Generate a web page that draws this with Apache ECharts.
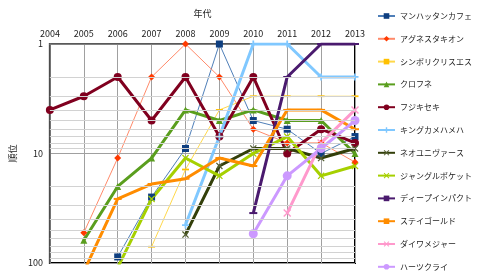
<!DOCTYPE html>
<html><head><meta charset="utf-8">
<script src="https://cdn.jsdelivr.net/npm/echarts@6/dist/echarts.min.js"></script>
<style>html,body{margin:0;padding:0;background:#fff}#c{width:480px;height:280px}</style>
</head><body><div id="c"></div>
<script>
const years = ['2004','2005','2006','2007','2008','2009','2010','2011','2012','2013'];
const manhattan = [null,null,88,25,9,1,5,6,10,7];
const agnes = [null,53,11,2,1,2,6,8,8,12];
const symboli = [null,null,null,71,14,4,3,3,3,3];
const kurofune = [null,62,20,11,4,5,4,5,5,10];
const fujikiseki = [4,3,2,5,2,7,2,10,6,8];
const kingkame = [null,null,null,null,45,7,1,1,2,2];
const neo = [null,null,null,null,55,13,9,9,11,9];
const jungle = [null,null,110,26,11,16,10,7,16,13];
const deep = [null,null,null,null,null,null,35,2,1,1];
const staygold = [null,120,26,19,17,11,13,4,4,6];
const daiwa = [null,null,null,null,null,null,null,35,8,4];
const hearts = [null,null,null,null,null,null,54,16,9,5];
const minorGrid = [2,3,4,5,6,7,8,9,20,30,40,50,60,70,80,90];

const FONT = '"Noto Sans CJK JP", "Noto Sans", sans-serif';
const PLUS = 'path://M3,0h2v3h3v2h-3v3h-2v-3h-3v-2h3z';
const XS = 'path://M0,1L1,0L4,3L7,0L8,1L5,4L8,7L7,8L4,5L1,8L0,7L3,4Z';
const DASH = 'path://M0,0h8v2h-8z';

function s(name, data, color, width, symbol, size, symColor) {
  return {
    name, type: 'line', data, connectNulls: false,
    lineStyle: {color, width},
    itemStyle: {color: symColor || color},
    symbol, symbolSize: size, symbolKeepAspect: true, showSymbol: true, clip: true
  };
}

const series = [
  s('マンハッタンカフェ', manhattan, '#4f7fb8', 1, 'rect', 7, '#0f3f80'),
  s('アグネスタキオン', agnes, '#ff8a6a', 1, 'diamond', 7, '#ff3a00'),
  s('シンボリクリスエス', symboli, '#ffd84a', 1, DASH, 7, '#ffc000'),
  s('クロフネ', kurofune, '#5a9e1e', 3, 'triangle', 7),
  s('フジキセキ', fujikiseki, '#80001f', 3, 'circle', 8),
  s('キングカメハメハ', kingkame, '#80c8ff', 3, PLUS, 7),
  s('ネオユニヴァース', neo, '#333f0a', 3, XS, 7, '#556033'),
  s('ジャングルポケット', jungle, '#a6d000', 3, XS, 7),
  s('ディープインパクト', deep, '#4a1a6e', 3, DASH, 8),
  s('ステイゴールド', staygold, '#ff8c00', 3, DASH, 8),
  s('ダイワメジャー', daiwa, '#ff99cc', 3, XS, 8),
  s('ハーツクライ', hearts, '#cc99ff', 3, 'circle', 9)
];
const names = series.map(x => x.name);
series.unshift({
  name: '_grid', type: 'line', data: years.map(() => null), silent: true,
  markLine: {
    silent: true, symbol: 'none', label: {show: false}, animation: false,
    lineStyle: {color: '#d2d2d2', width: 1, type: 'solid'},
    data: minorGrid.map(v => ({yAxis: v}))
  }
});

const chart = echarts.init(document.getElementById('c'), null, {renderer: 'canvas'});
chart.setOption({
  animation: false,
  backgroundColor: '#fff',
  textStyle: {fontFamily: FONT},
  grid: {left: 47, top: 44, right: 125, bottom: 17, show: true, borderColor: '#000', borderWidth: 2, backgroundColor: 'transparent'},
  legend: {
    orient: 'vertical', left: 377, top: 11, padding: 0, data: names,
    itemWidth: 17, itemHeight: 7, itemGap: 12.8,
    textStyle: {fontFamily: FONT, fontSize: 8, color: '#222', lineHeight: 10}
  },
  xAxis: {
    type: 'category', data: years, position: 'top', boundaryGap: false,
    name: '年代', nameLocation: 'middle', nameGap: 26,
    nameTextStyle: {fontFamily: FONT, fontSize: 9, color: '#222'},
    axisLine: {show: true, lineStyle: {color: '#777', width: 1.5}},
    axisTick: {show: false},
    axisLabel: {fontFamily: FONT, fontSize: 9, color: '#222', margin: 6, interval: 0},
    splitLine: {show: true, lineStyle: {color: '#a0a0a0', width: 1}}
  },
  yAxis: {
    type: 'log', logBase: 10, min: 1, max: 100, inverse: true,
    name: '順位', nameLocation: 'middle', nameGap: 28,
    nameTextStyle: {fontFamily: FONT, fontSize: 9, color: '#222'},
    axisLine: {show: true, lineStyle: {color: '#666', width: 1.5}},
    axisTick: {show: false},
    axisLabel: {fontFamily: FONT, fontSize: 9, color: '#222', margin: 7},
    splitLine: {show: true, lineStyle: {color: '#a0a0a0', width: 1}}
  },
  series
});
</script></body></html>
